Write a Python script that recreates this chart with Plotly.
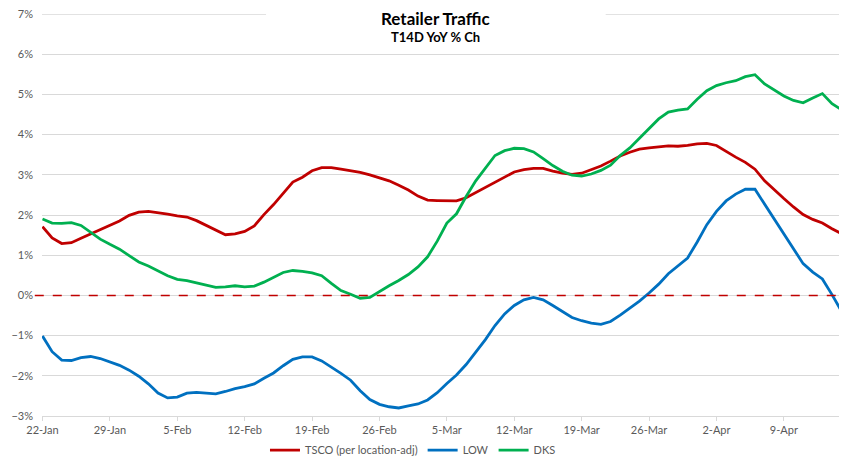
import pandas as pd
import plotly.graph_objects as go

# T14D YoY % change, daily from 22-Jan
start_date = '2021-01-22'

tsco = [1.71, 1.43, 1.29, 1.31, 1.42, 1.53, 1.62, 1.73, 1.85, 1.99,
        2.07, 2.09, 2.06, 2.02, 1.98, 1.95, 1.86, 1.75, 1.62, 1.51,
        1.53, 1.59, 1.73, 2.01, 2.26, 2.55, 2.82, 2.94, 3.10, 3.18,
        3.18, 3.14, 3.10, 3.06, 3.00, 2.93, 2.85, 2.74, 2.62, 2.47,
        2.37, 2.36, 2.35, 2.35, 2.43, 2.56, 2.67, 2.80, 2.94, 3.07,
        3.13, 3.16, 3.16, 3.09, 3.04, 3.01, 3.04, 3.13, 3.22, 3.34,
        3.47, 3.56, 3.64, 3.67, 3.70, 3.72, 3.71, 3.73, 3.77, 3.78,
        3.73, 3.58, 3.44, 3.31, 3.14, 2.85, 2.62, 2.41, 2.20, 2.01,
        1.89, 1.80, 1.66, 1.53]

low = [-1.01, -1.40, -1.61, -1.62, -1.55, -1.52, -1.57, -1.65, -1.74, -1.86,
       -2.01, -2.20, -2.43, -2.55, -2.53, -2.43, -2.41, -2.43, -2.45, -2.39,
       -2.32, -2.27, -2.20, -2.06, -1.93, -1.75, -1.59, -1.53, -1.53, -1.63,
       -1.78, -1.94, -2.11, -2.37, -2.59, -2.71, -2.77, -2.80, -2.75, -2.70,
       -2.60, -2.42, -2.19, -1.98, -1.72, -1.42, -1.10, -0.75, -0.46, -0.25,
       -0.11, -0.05, -0.11, -0.25, -0.41, -0.55, -0.63, -0.69, -0.72, -0.65,
       -0.49, -0.32, -0.14, 0.06, 0.28, 0.54, 0.74, 0.93, 1.33, 1.76,
       2.09, 2.35, 2.52, 2.64, 2.64, 2.27, 1.88, 1.50, 1.13, 0.79,
       0.58, 0.41, 0.02, -0.40]

dks = [1.90, 1.80, 1.79, 1.81, 1.74, 1.57, 1.40, 1.27, 1.15, 0.99,
       0.83, 0.73, 0.61, 0.49, 0.40, 0.37, 0.31, 0.26, 0.20, 0.21,
       0.24, 0.21, 0.23, 0.33, 0.45, 0.57, 0.62, 0.60, 0.56, 0.49,
       0.30, 0.12, 0.03, -0.07, -0.05, 0.10, 0.24, 0.37, 0.52, 0.71,
       0.96, 1.35, 1.80, 2.03, 2.46, 2.85, 3.18, 3.48, 3.60, 3.66,
       3.65, 3.57, 3.40, 3.23, 3.09, 2.99, 2.97, 3.02, 3.11, 3.24,
       3.48, 3.67, 3.91, 4.14, 4.39, 4.56, 4.61, 4.64, 4.88, 5.09,
       5.22, 5.29, 5.34, 5.44, 5.49, 5.26, 5.10, 4.96, 4.85, 4.79,
       4.91, 5.02, 4.77, 4.62]

dates = pd.date_range(start_date, periods=len(tsco), freq='D')

series = [
    ('TSCO (per location-adj)', tsco, '#c00000'),
    ('LOW', low, '#0070c0'),
    ('DKS', dks, '#00b050'),
]

y_min, y_max = -3, 7

fig = go.Figure()
for name, vals, color in series:
    fig.add_trace(go.Scatter(x=dates, y=vals, name=name, mode='lines',
                             line=dict(color=color, width=2.8)))

font = 'Lato, Calibri, Carlito, sans-serif'
grey = '#595959'
grid = '#d9d9d9'

# page body has an 8px margin, so the margins are shifted to compensate
fig.update_layout(
    width=847, height=467,
    margin=dict(l=34, r=10, t=6, b=59),
    plot_bgcolor='white', paper_bgcolor='white',
    font=dict(family=font, size=11, color=grey),
    showlegend=True,
    legend=dict(orientation='h', x=0.462, xanchor='center', y=-0.085, yanchor='middle',
                font=dict(size=11, color=grey), itemwidth=30, tracegroupgap=0),
)

fig.update_xaxes(
    range=['2021-01-21 22:48', '2021-04-15 08:24'],
    tick0=start_date, dtick=7 * 86400000, tickformat='%-d-%b',
    showgrid=False, showline=True, linecolor=grid, linewidth=1,
    ticks='outside', ticklen=4, tickcolor=grid,
    tickfont=dict(size=11, color=grey), automargin=False,
)
fig.update_yaxes(
    range=[y_min, y_max], dtick=1, ticksuffix='%',
    showgrid=True, gridcolor=grid, gridwidth=1, zeroline=False,
    tickfont=dict(size=11, color=grey), ticks='', ticklabelstandoff=8,
    ticklabeloverflow='allow', automargin=False,
)

# plotly skips the gridline sitting on the top edge, so draw that one by hand
fig.add_shape(type='line', xref='paper', yref='y', x0=0, x1=1, y0=y_max, y1=y_max,
              line=dict(color=grid, width=1.5), layer='below')

# zero reference line
fig.add_shape(type='line', xref='paper', yref='y', x0=-0.009, x1=1, y0=0, y1=0,
              line=dict(color='#c00000', width=1.5, dash='dash'), layer='above')

# white title box sitting over the top gridlines
fig.add_shape(type='rect', xref='paper', yref='paper', x0=0.279, x1=0.702, y0=0.8955, y1=1.015,
              fillcolor='white', line=dict(width=0), layer='between')

fig.add_annotation(text='<b>Retailer Traffic</b>', xref='paper', yref='paper',
                   x=0.49, y=0.9888, xanchor='center', yanchor='middle', showarrow=False,
                   font=dict(family=font, size=17, color='black'))
fig.add_annotation(text='<b>T14D YoY % Ch</b>', xref='paper', yref='paper',
                   x=0.49, y=0.943, xanchor='center', yanchor='middle', showarrow=False,
                   font=dict(family=font, size=13, color='black'))

fig.write_html('out.html')
